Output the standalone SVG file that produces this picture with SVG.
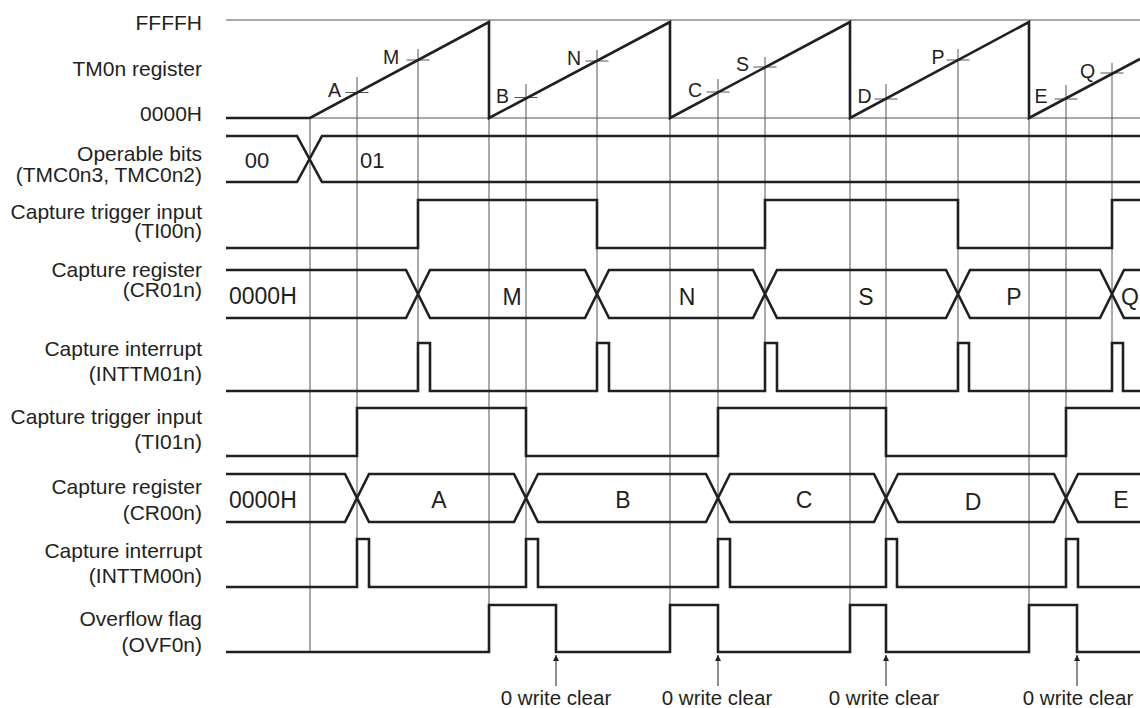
<svg xmlns="http://www.w3.org/2000/svg" width="1140" height="708" viewBox="0 0 1140 708">
<defs>
<style>
text{font-family:"Liberation Sans",Arial,sans-serif;fill:#231f20}
.lbl{font-size:21px;text-anchor:end}
.val{font-size:23px}
.mid{text-anchor:middle}
.pt{font-size:19.5px;text-anchor:middle}
.wc{font-size:20.5px;text-anchor:middle}
.sig{fill:none;stroke:#231f20;stroke-width:2.6;stroke-linejoin:miter}
.grid{fill:none;stroke:#555;stroke-width:1}
.arr{fill:none;stroke:#444;stroke-width:1.2}
</style>
<marker id="ah" viewBox="0 0 10 10" refX="10" refY="5" markerWidth="11" markerHeight="6" markerUnits="userSpaceOnUse" orient="auto">
<path d="M0,0 L10,5 L0,10 z" fill="#231f20"/>
</marker>
</defs>
<rect width="1140" height="708" fill="#fff"/>

<g id="labels">
<text class="lbl" x="202" y="30">FFFFH</text>
<text class="lbl" x="202" y="75.5">TM0n register</text>
<text class="lbl" x="202" y="120.5">0000H</text>
<text class="lbl" x="202" y="161">Operable bits</text>
<text class="lbl" x="202" y="181.5">(TMC0n3, TMC0n2)</text>
<text class="lbl" x="202" y="218.5">Capture trigger input</text>
<text class="lbl" x="202" y="238">(TI00n)</text>
<text class="lbl" x="202" y="277">Capture register</text>
<text class="lbl" x="202" y="297">(CR01n)</text>
<text class="lbl" x="202" y="356">Capture interrupt</text>
<text class="lbl" x="202" y="381">(INTTM01n)</text>
<text class="lbl" x="202" y="424">Capture trigger input</text>
<text class="lbl" x="202" y="449">(TI01n)</text>
<text class="lbl" x="202" y="494">Capture register</text>
<text class="lbl" x="202" y="519.5">(CR00n)</text>
<text class="lbl" x="202" y="557.5">Capture interrupt</text>
<text class="lbl" x="202" y="582.5">(INTTM00n)</text>
<text class="lbl" x="202" y="626">Overflow flag</text>
<text class="lbl" x="202" y="651.5">(OVF0n)</text>
</g>

<g id="guides">
<line class="grid" x1="226" y1="20" x2="1140" y2="20"/>
<line class="grid" x1="310" y1="118" x2="1140" y2="118"/>
<line class="grid" x1="310" y1="118" x2="310" y2="652"/>
<line class="grid" x1="357" y1="77" x2="357" y2="539"/>
<line class="grid" x1="418" y1="49" x2="418" y2="343"/>
<line class="grid" x1="489" y1="118" x2="489" y2="605"/>
<line class="grid" x1="526" y1="84" x2="526" y2="539"/>
<line class="grid" x1="597" y1="50" x2="597" y2="343"/>
<line class="grid" x1="670" y1="118" x2="670" y2="605"/>
<line class="grid" x1="718" y1="79" x2="718" y2="539"/>
<line class="grid" x1="765" y1="57" x2="765" y2="343"/>
<line class="grid" x1="850" y1="118" x2="850" y2="605"/>
<line class="grid" x1="886" y1="84" x2="886" y2="539"/>
<line class="grid" x1="958" y1="49" x2="958" y2="343"/>
<line class="grid" x1="1029" y1="118" x2="1029" y2="605"/>
<line class="grid" x1="1066" y1="85" x2="1066" y2="539"/>
<line class="grid" x1="1112" y1="63" x2="1112" y2="343"/>
<path class="grid" d="M345.5,92.5 H368.5 M406.5,60 H429.5 M514.5,97.5 H537.5 M585.5,61 H608.5 M706.5,92 H729.5 M753.5,67 H776.5 M874.5,99 H897.5 M946.5,60 H969.5 M1054.5,99 H1077.5 M1100.5,73 H1123.5"/>
</g>

<g id="tm0n">
<path class="sig" d="M226,118 H310 L489,22 V118 L670,22 V118 L850,22 V118 L1029,22 V118 L1140,59"/>
<text class="pt" x="334.5" y="97">A</text>
<text class="pt" x="391" y="64">M</text>
<text class="pt" x="502.5" y="103">B</text>
<text class="pt" x="574" y="65">N</text>
<text class="pt" x="695" y="97">C</text>
<text class="pt" x="742.5" y="71">S</text>
<text class="pt" x="864.5" y="103">D</text>
<text class="pt" x="938" y="64">P</text>
<text class="pt" x="1041" y="103">E</text>
<text class="pt" x="1087.5" y="77.5">Q</text>
</g>

<g id="operable-bits">
<path class="sig" d="M226,136 H297 L322,182 H1140 M226,182 H297 L322,136 H1140"/>
<text class="val mid" x="257" y="168" style="font-size:22px">00</text>
<text class="val" x="360" y="168" style="font-size:22px">01</text>
</g>

<g id="ti00n">
<path class="sig" d="M226,248 H418 V200 H597 V248 H765 V200 H958 V248 H1112 V200 H1140"/>
</g>

<g id="cr01n">
<path class="sig" d="M226,270 H406 L430,318 H585 L609,270 H753 L777,318 H946 L970,270 H1100 L1124,318 H1140 M226,318 H406 L430,270 H585 L609,318 H753 L777,270 H946 L970,318 H1100 L1124,270 H1140"/>
<text class="val" x="229" y="304">0000H</text>
<text class="val mid" x="512" y="305">M</text>
<text class="val mid" x="687" y="305">N</text>
<text class="val mid" x="866" y="305">S</text>
<text class="val mid" x="1014" y="305">P</text>
<text class="val" x="1121" y="305">Q</text>
</g>

<g id="inttm01n">
<path class="sig" d="M226,391 H418 V343 H430 V391 H597 V343 H609 V391 H765 V343 H777 V391 H958 V343 H969 V391 H1112 V343 H1123 V391 H1140"/>
</g>

<g id="ti01n">
<path class="sig" d="M226,456 H357 V408 H526 V456 H718 V408 H886 V456 H1066 V408 H1140"/>
</g>

<g id="cr00n">
<path class="sig" d="M226,474 H345 L369,522 H514 L538,474 H706 L730,522 H874 L898,474 H1054 L1078,522 H1140 M226,522 H345 L369,474 H514 L538,522 H706 L730,474 H874 L898,522 H1054 L1078,474 H1140"/>
<text class="val" x="229" y="508">0000H</text>
<text class="val mid" x="439" y="508">A</text>
<text class="val mid" x="623" y="508">B</text>
<text class="val mid" x="804" y="508">C</text>
<text class="val mid" x="973" y="509.5">D</text>
<text class="val mid" x="1121" y="508">E</text>
</g>

<g id="inttm00n">
<path class="sig" d="M226,587 H357 V539 H369 V587 H526 V539 H538 V587 H718 V539 H730 V587 H886 V539 H897 V587 H1066 V539 H1078 V587 H1140"/>
</g>

<g id="ovf0n">
<path class="sig" d="M226,652 H489 V605 H556 V652 H670 V605 H718 V652 H850 V605 H886 V652 H1029 V605 H1077 V652 H1140"/>
</g>

<g id="connectors">
<line class="arr" x1="556" y1="686" x2="556" y2="655" marker-end="url(#ah)"/>
<line class="arr" x1="718" y1="686" x2="718" y2="655" marker-end="url(#ah)"/>
<line class="arr" x1="886" y1="686" x2="886" y2="655" marker-end="url(#ah)"/>
<line class="arr" x1="1077" y1="686" x2="1077" y2="655" marker-end="url(#ah)"/>
</g>

<g id="notes">
<text class="wc" x="556" y="705">0 write clear</text>
<text class="wc" x="717" y="705">0 write clear</text>
<text class="wc" x="884" y="705">0 write clear</text>
<text class="wc" x="1078" y="705">0 write clear</text>
</g>
</svg>
